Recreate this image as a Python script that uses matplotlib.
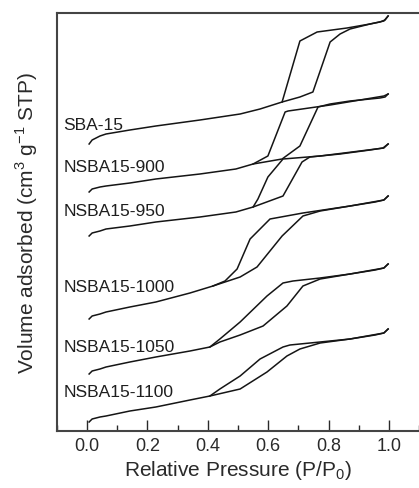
import matplotlib
matplotlib.use("Agg")
import matplotlib.pyplot as plt
from matplotlib.ticker import MultipleLocator

plt.rcParams['font.family'] = ['Liberation Sans', 'DejaVu Sans']
plt.rcParams['mathtext.fontset'] = 'custom'
plt.rcParams['mathtext.rm'] = 'Liberation Sans'

# N2 sorption isotherms, stacked with vertical offsets (volume in arbitrary units)
samples = ["SBA-15", "NSBA15-900", "NSBA15-950", "NSBA15-1000", "NSBA15-1050", "NSBA15-1100"]

# adsorption branches (relative pressure, volume)
ads_p = {
    "SBA-15": [0.007, 0.017, 0.043, 0.063, 0.142, 0.228, 0.374, 0.507, 0.573, 0.646,
               0.705, 0.748, 0.772, 0.805, 0.838, 0.871, 0.937, 0.970, 0.987, 0.997],
    "NSBA15-900": [0.007, 0.017, 0.043, 0.063, 0.142, 0.228, 0.374, 0.493, 0.550,
                   0.646, 0.705, 0.765, 0.805, 0.871, 0.937, 0.970, 0.987, 0.997],
    "NSBA15-950": [0.007, 0.017, 0.043, 0.063, 0.142, 0.228, 0.374, 0.493, 0.550,
                   0.649, 0.712, 0.738, 0.838, 0.937, 0.980, 0.997],
    "NSBA15-1000": [0.007, 0.017, 0.043, 0.063, 0.142, 0.228, 0.341, 0.417,
                    0.507, 0.563, 0.646, 0.715, 0.772, 0.871, 0.954, 0.983, 0.997],
    "NSBA15-1050": [0.007, 0.017, 0.043, 0.063, 0.142, 0.228, 0.341, 0.407,
                    0.440, 0.507, 0.583, 0.662, 0.715, 0.772, 0.871, 0.954, 0.983, 0.997],
    "NSBA15-1100": [0.007, 0.017, 0.043, 0.063, 0.142, 0.228, 0.341, 0.407,
                    0.507, 0.596, 0.662, 0.705, 0.772, 0.871, 0.954, 0.983, 0.997],
}
ads_v = {
    "SBA-15": [287, 291, 295, 297, 301, 305, 311, 317, 322, 329,
               334, 339, 360, 389, 397, 402, 407, 409, 411, 415],
    "NSBA15-900": [239, 242, 244, 245, 248, 252, 257, 262, 267,
                   272, 285, 324, 327, 330, 332, 333, 334, 337],
    "NSBA15-950": [195, 198, 200, 202, 205, 209, 214, 219, 224,
                   235, 269, 274, 277, 281, 283, 287],
    "NSBA15-1000": [112, 115, 117, 119, 124, 129, 138, 145,
                    154, 164, 195, 215, 220, 225, 229, 231, 235],
    "NSBA15-1050": [57, 60, 62, 64, 69, 74, 80, 84,
                    89, 96, 105, 125, 145, 152, 157, 161, 163, 167],
    "NSBA15-1100": [9, 12, 14, 15, 20, 24, 31, 35,
                    42, 59, 75, 82, 88, 92, 96, 98, 102],
}

# desorption branches, from P/P0 = 1 down to hysteresis closure
des_p = {
    "SBA-15": [0.997, 0.983, 0.937, 0.861, 0.762, 0.705, 0.646],
    "NSBA15-900": [0.997, 0.983, 0.904, 0.805, 0.666, 0.656, 0.599, 0.550],
    "NSBA15-950": [0.997, 0.983, 0.904, 0.772, 0.649, 0.599, 0.566, 0.550],
    "NSBA15-1000": [0.997, 0.983, 0.871, 0.715, 0.606, 0.540, 0.497, 0.457, 0.417],
    "NSBA15-1050": [0.997, 0.983, 0.871, 0.772, 0.682, 0.649, 0.596, 0.507, 0.440, 0.407],
    "NSBA15-1100": [0.997, 0.983, 0.871, 0.772, 0.672, 0.649, 0.573, 0.507, 0.440, 0.407],
}
des_v = {
    "SBA-15": [415, 410, 407, 403, 399, 390, 329],
    "NSBA15-900": [337, 335, 331, 326, 320, 319, 275, 267],
    "NSBA15-950": [287, 283, 280, 275, 272, 254, 232, 224],
    "NSBA15-1000": [235, 231, 225, 218, 212, 192, 162, 150, 145],
    "NSBA15-1050": [167, 163, 157, 153, 150, 148, 135, 109, 92, 84],
    "NSBA15-1100": [102, 98, 92, 89, 86, 84, 72, 55, 42, 35],
}

label_y = {"SBA-15": 307, "NSBA15-900": 265, "NSBA15-950": 220,
           "NSBA15-1000": 144, "NSBA15-1050": 85, "NSBA15-1100": 39}

fig = plt.figure(figsize=(4.19, 4.89), dpi=100)
ax = fig.add_axes([56.8 / 419, 57 / 489, 362.4 / 419, 418 / 489])

line_color = "#151515"
for s in samples:
    ax.plot(ads_p[s], ads_v[s], color=line_color, lw=1.1)
    ax.plot(des_p[s], des_v[s], color=line_color, lw=1.1)
    ax.text(-0.079, label_y[s], s, fontsize=12.5, color="#1e1e1e",
            ha="left", va="center")

ax.set_xlim(-0.1, 1.1)
ax.set_ylim(0, 418)
ax.xaxis.set_minor_locator(MultipleLocator(0.1))
ax.set_xticks([0.0, 0.2, 0.4, 0.6, 0.8, 1.0])
ax.set_xticklabels(["0.0", "0.2", "0.4", "0.6", "0.8", "1.0"])
ax.set_yticks([])
ax.tick_params(axis="x", which="major", direction="in", length=8, width=1.0,
               labelsize=13, colors="#2a2a2a", pad=4)
ax.tick_params(axis="x", which="minor", direction="in", length=4, width=1.0,
               colors="#2a2a2a")

for side in ("left", "top", "bottom"):
    ax.spines[side].set_color("#444444")
    ax.spines[side].set_linewidth(1.5)
ax.spines["right"].set_visible(False)

ax.set_xlabel("Relative Pressure (P/P$_0$)", fontsize=15, color="#2a2a2a", labelpad=3)
ax.set_ylabel("Volume adsorbed (cm$^3$ g$^{-1}$ STP)", fontsize=15,
              color="#2a2a2a", labelpad=12)

fig.savefig("out.png", dpi=100, facecolor="white")
